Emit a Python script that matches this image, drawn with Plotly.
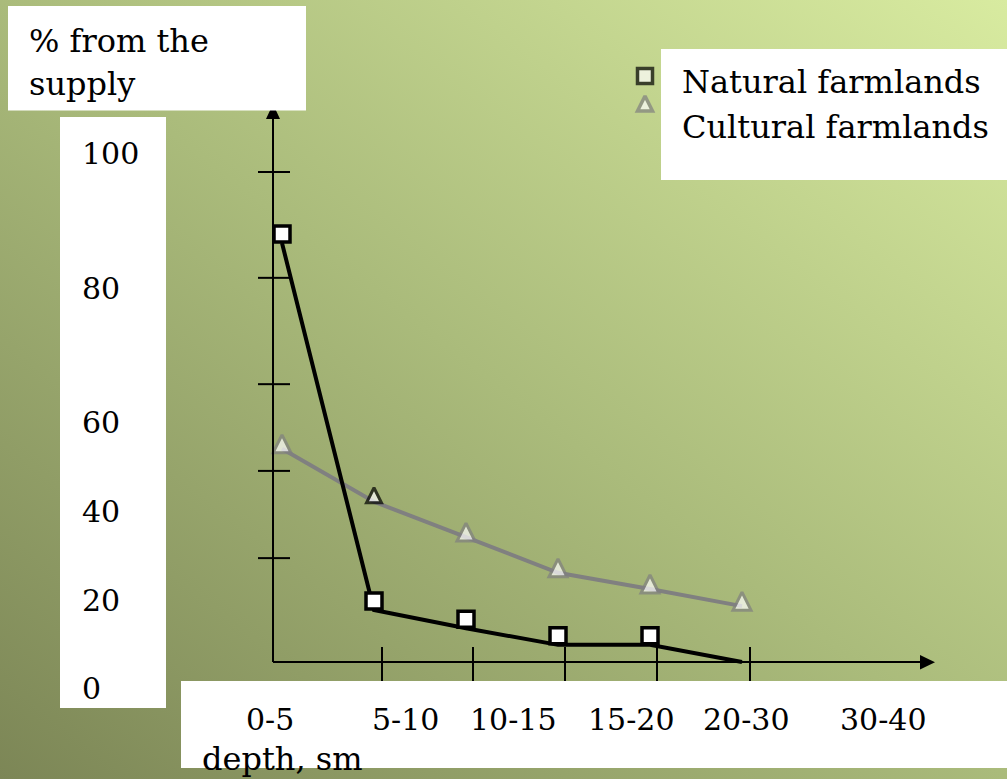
import base64
import plotly.graph_objects as go

# ---------------- data ----------------
depth_labels = ["0-5", "5-10", "10-15", "15-20", "20-30", "30-40"]
depth_index = [0, 1, 2, 3, 4, 5]
natural_pct = [85.5, 10.6, 6.9, 3.5, 3.5, 0.0]
cultural_pct = [43.5, 32.7, 25.5, 18.2, 14.9, 11.4]
y_tick_labels = ["100", "80", "60", "40", "20", "0"]
y_tick_marks = [21.2, 39.0, 56.7, 78.4, 100.0]
x_tick_marks = [1.087, 2.076, 3.076, 4.076, 5.087]
series_names = ["Natural farmlands", "Cultural farmlands"]

# ---------------- page geometry (pixels) ----------------
W, H = 1007, 779
X0_PX, X_STEP_PX = 282, 92      # pixel of first category, spacing per category
Y0_PX, Y_STEP_PX = 662, 4.9     # pixel of 0 %, pixels per 1 %
NAT_LIFT_PX = 9                 # squares sit a little above the polyline
CUL_LIFT_PX = 14                # triangle apex above the polyline

FONT = "DejaVu Serif, Liberation Serif, serif"

def px_x(p):
    return (p - X0_PX) / X_STEP_PX

def px_y(p):
    return (Y0_PX - p) / Y_STEP_PX

def pap_x(p):
    return p / W

def pap_y(p):
    return 1 - p / H

x_range = [px_x(0), px_x(W)]
y_range = [px_y(H), px_y(0)]
nat_shift = NAT_LIFT_PX / Y_STEP_PX
cul_shift = CUL_LIFT_PX / Y_STEP_PX

# ---------------- background gradient ----------------
svg = (
    "<svg xmlns='http://www.w3.org/2000/svg' width='1007' height='779' "
    "preserveAspectRatio='none'><defs><linearGradient id='g' x1='0' y1='1' x2='1' y2='0'>"
    "<stop offset='0' stop-color='#7C8656'/>"
    "<stop offset='0.5' stop-color='#AABB7B'/>"
    "<stop offset='1' stop-color='#D8EBA0'/>"
    "</linearGradient></defs><rect width='100%' height='100%' fill='url(#g)'/></svg>"
)
bg_src = "data:image/svg+xml;base64," + base64.b64encode(svg.encode()).decode()

fig = go.Figure()

# cultural farmlands: grey polyline with white triangles
fig.add_trace(go.Scatter(
    x=depth_index, y=cultural_pct, mode="lines",
    line=dict(color="#808080", width=4), name=series_names[1],
    showlegend=False, hoverinfo="skip",
))
fig.add_trace(go.Scatter(
    x=depth_index, y=cultural_pct, yaxis="y3", mode="markers",
    marker=dict(symbol="arrow-up", size=[18, 15, 18, 18, 18, 18], color="white",
                line=dict(color=["#808080", "#000000", "#808080", "#808080", "#808080", "#808080"],
                          width=3)),
    showlegend=False, hoverinfo="skip",
))

# natural farmlands: black polyline with white squares
fig.add_trace(go.Scatter(
    x=depth_index, y=natural_pct, mode="lines",
    line=dict(color="black", width=4), name=series_names[0],
    showlegend=False, hoverinfo="skip",
))
fig.add_trace(go.Scatter(
    x=depth_index[:5], y=natural_pct[:5], yaxis="y2", mode="markers",
    marker=dict(symbol="square", size=16, color="white",
                line=dict(color="black", width=3.5)),
    showlegend=False, hoverinfo="skip",
))

# legend keys
fig.add_trace(go.Scatter(
    x=[px_x(645), px_x(645)], y=[px_y(76), px_y(96)], mode="markers",
    marker=dict(symbol=["square", "arrow-up"], size=[15, 15], color="white",
                line=dict(color=["black", "#808080"], width=3.5)),
    showlegend=False, hoverinfo="skip",
))

shapes = []
# axis lines
shapes.append(dict(type="line", xref="paper", yref="y",
                   x0=pap_x(273), x1=pap_x(273), y0=0, y1=px_y(118),
                   line=dict(color="black", width=2)))
shapes.append(dict(type="line", xref="paper", yref="y",
                   x0=pap_x(273), x1=pap_x(921), y0=0, y1=0,
                   line=dict(color="black", width=2)))
# arrowheads
shapes.append(dict(type="path", xref="paper", yref="paper",
                   path=f"M{pap_x(266)},{pap_y(119)} L{pap_x(280)},{pap_y(119)} L{pap_x(273)},{pap_y(104)} Z",
                   fillcolor="black", line=dict(width=0)))
shapes.append(dict(type="path", xref="paper", yref="paper",
                   path=f"M{pap_x(920)},{pap_y(655)} L{pap_x(920)},{pap_y(669.5)} L{pap_x(935)},{pap_y(662.3)} Z",
                   fillcolor="black", line=dict(width=0)))
# crossing tick marks
for v in y_tick_marks:
    shapes.append(dict(type="line", xref="paper", yref="y",
                       x0=pap_x(258), x1=pap_x(290), y0=v, y1=v,
                       line=dict(color="black", width=2)))
for v in x_tick_marks:
    shapes.append(dict(type="line", xref="x", yref="paper",
                       x0=v, x1=v, y0=pap_y(647), y1=pap_y(695),
                       line=dict(color="black", width=2)))
# white text panels
for x0, y0, x1, y1 in [(8, 6, 306, 110.5), (60, 117, 166, 708),
                       (181, 681, 1007, 768), (661, 49, 1007, 180)]:
    shapes.append(dict(type="rect", xref="paper", yref="paper", layer="above",
                       x0=pap_x(x0), x1=pap_x(x1), y0=pap_y(y1), y1=pap_y(y0),
                       fillcolor="white", line=dict(width=0)))

annotations = []

def text(t, x, y, size=32, anchor="left"):
    annotations.append(dict(text=t, xref="paper", yref="paper",
                            x=pap_x(x), y=pap_y(y), xanchor=anchor, yanchor="middle",
                            showarrow=False, font=dict(family=FONT, size=size, color="black")))

text("% from the", 27, 41)
text("supply", 27, 84)
text(series_names[0], 680, 82)
text(series_names[1], 680, 127)
text("depth, sm", 200, 759)

y_label_centers = [153, 288, 422, 512, 600, 688]
for lab, yc in zip(y_tick_labels, y_label_centers):
    text(lab, 80, yc, size=30)

x_label_centers = [270, 405, 513, 631, 746, 883]
for lab, xc in zip(depth_labels, x_label_centers):
    text(lab, xc, 719, size=30, anchor="center")

hidden = dict(visible=False, showgrid=False, zeroline=False, fixedrange=True)
fig.update_layout(
    width=W, height=H,
    margin=dict(l=0, r=0, t=0, b=0),
    paper_bgcolor="#AABB7B",
    plot_bgcolor="rgba(0,0,0,0)",
    xaxis=dict(range=x_range, domain=[0, 1], **hidden),
    yaxis=dict(range=y_range, domain=[0, 1], **hidden),
    yaxis2=dict(range=[y_range[0] - nat_shift, y_range[1] - nat_shift],
                overlaying="y", anchor="x", **hidden),
    yaxis3=dict(range=[y_range[0] - cul_shift, y_range[1] - cul_shift],
                overlaying="y", anchor="x", **hidden),
    images=[dict(source=bg_src, xref="paper", yref="paper", x=0, y=1,
                 sizex=1, sizey=1, xanchor="left", yanchor="top",
                 sizing="stretch", layer="below")],
    shapes=shapes,
    annotations=annotations,
    showlegend=False,
)

fig.write_html("out.html")
